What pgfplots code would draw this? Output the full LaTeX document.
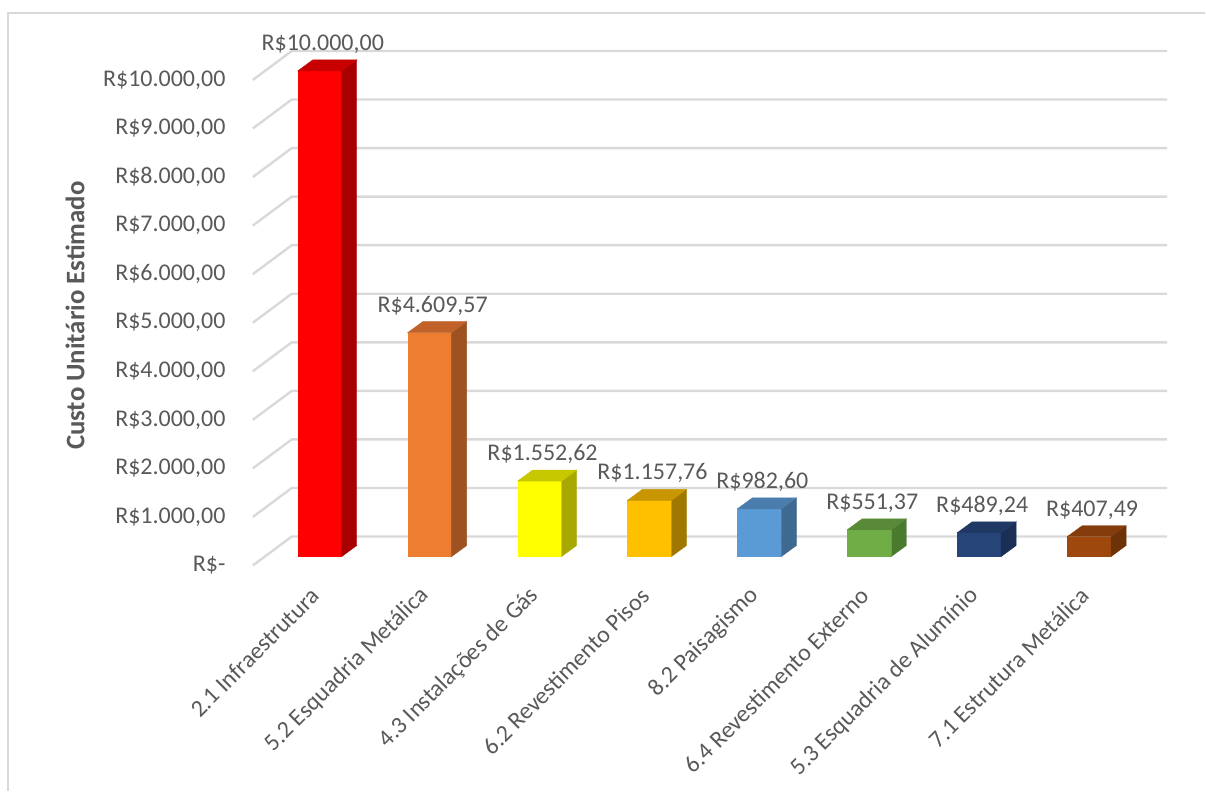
\documentclass[border=0pt]{standalone}
\usepackage{pgfplots}
\pgfplotsset{compat=1.18}
\usepackage{fontspec}
\setmainfont{Carlito}
\definecolor{txt}{HTML}{595959}
\definecolor{grid}{HTML}{D9D9D9}
% front / side / top colours
\definecolor{rF}{HTML}{FF0000}\definecolor{rS}{HTML}{A80000}\definecolor{rT}{HTML}{C80000}
\definecolor{oF}{HTML}{ED7D31}\definecolor{oS}{HTML}{9E5222}\definecolor{oT}{HTML}{C0622A}
\definecolor{yF}{HTML}{FFFF00}\definecolor{yS}{HTML}{A8A800}\definecolor{yT}{HTML}{C8C800}
\definecolor{gF}{HTML}{FFC000}\definecolor{gS}{HTML}{A07800}\definecolor{gT}{HTML}{C89600}
\definecolor{bF}{HTML}{5B9BD5}\definecolor{bS}{HTML}{3E6A92}\definecolor{bT}{HTML}{4A7DAD}
\definecolor{nF}{HTML}{70AD47}\definecolor{nS}{HTML}{4A7A2E}\definecolor{nT}{HTML}{588A38}
\definecolor{dF}{HTML}{264478}\definecolor{dS}{HTML}{1A2F55}\definecolor{dT}{HTML}{203864}
\definecolor{wF}{HTML}{9E480E}\definecolor{wS}{HTML}{6E3209}\definecolor{wT}{HTML}{843C0C}
\newcommand{\lblfont}{\fontsize{12}{14}\selectfont}
\begin{document}
\begin{tikzpicture}
\begin{axis}[
  scale only axis,
  width=603pt, height=294pt,
  xmin=-2.9091, xmax=8.0545,
  ymin=-638, ymax=11461,
  clip=false,
  scaled y ticks=false,
  scaled x ticks=false,
  axis line style={draw=none},
  tick style={draw=none},
  xtick={0,1,2,3,4,5,6,7},
  xticklabels={2.1 Infraestrutura, 5.2 Esquadria Metálica, 4.3 Instalações de Gás, 6.2 Revestimento Pisos, 8.2 Paisagismo, 6.4 Revestimento Externo, 5.3 Esquadria de Alumínio, 7.1 Estrutura Metálica},
  xticklabel style={rotate=45, anchor=east, inner sep=0pt, xshift=-3pt, font=\lblfont, text=txt},
  ytick={0,1000,2000,3000,4000,5000,6000,7000,8000,9000,10000},
  yticklabels={{R\$-},{R\$1.000,00},{R\$2.000,00},{R\$3.000,00},{R\$4.000,00},{R\$5.000,00},{R\$6.000,00},{R\$7.000,00},{R\$8.000,00},{R\$9.000,00},{R\$10.000,00}},
  yticklabel style={anchor=east, inner sep=0pt, xshift=113pt, yshift=-4.5pt, font=\lblfont, text=txt},
  ylabel={Custo Unitário Estimado},
  every axis y label/.style={at={(rel axis cs:0.0622,0.4626)}, rotate=90, anchor=center, font=\fontsize{13.4}{16}\selectfont\bfseries, text=txt},
]
% bounding box
\path (axis cs:-2.9091,-4856) rectangle (axis cs:8.0545,11461);
% chart frame
\draw[grid, line width=1pt] (axis cs:8.0545,11193) -- (axis cs:-2.8364,11193) -- (axis cs:-2.8364,-4835);
% gridlines (front diagonal + back wall)
\draw[grid, line width=1.2pt] (axis cs:-0.6091,-185.5) -- (axis cs:-0.2545,411.5) -- (axis cs:7.7091,411.5);
\draw[grid, line width=1.2pt] (axis cs:-0.6091,814.5) -- (axis cs:-0.2545,1411.5) -- (axis cs:7.7091,1411.5);
\draw[grid, line width=1.2pt] (axis cs:-0.6091,1814.5) -- (axis cs:-0.2545,2411.5) -- (axis cs:7.7091,2411.5);
\draw[grid, line width=1.2pt] (axis cs:-0.6091,2814.5) -- (axis cs:-0.2545,3411.5) -- (axis cs:7.7091,3411.5);
\draw[grid, line width=1.2pt] (axis cs:-0.6091,3814.5) -- (axis cs:-0.2545,4411.5) -- (axis cs:7.7091,4411.5);
\draw[grid, line width=1.2pt] (axis cs:-0.6091,4814.5) -- (axis cs:-0.2545,5411.5) -- (axis cs:7.7091,5411.5);
\draw[grid, line width=1.2pt] (axis cs:-0.6091,5814.5) -- (axis cs:-0.2545,6411.5) -- (axis cs:7.7091,6411.5);
\draw[grid, line width=1.2pt] (axis cs:-0.6091,6814.5) -- (axis cs:-0.2545,7411.5) -- (axis cs:7.7091,7411.5);
\draw[grid, line width=1.2pt] (axis cs:-0.6091,7814.5) -- (axis cs:-0.2545,8411.5) -- (axis cs:7.7091,8411.5);
\draw[grid, line width=1.2pt] (axis cs:-0.6091,8814.5) -- (axis cs:-0.2545,9411.5) -- (axis cs:7.7091,9411.5);
\draw[grid, line width=1.2pt] (axis cs:-0.6091,9814.5) -- (axis cs:-0.2545,10411.5) -- (axis cs:7.7091,10411.5);

\pgfplotsset{
  frontbar/.style={ybar, bar width=22pt, bar shift=0pt, draw=none, fill=#1,
    every node near coord/.append style={anchor=center, yshift=13.5pt, xshift=1.5pt, font=\lblfont, text=txt}},
  face/.style={fill=#1, draw=#1, line width=0.2pt},
}
% 0: 2.1 Infraestrutura
\addplot[frontbar=rF, nodes near coords={R\$10.000,00}] coordinates {(0,10000)};
\addplot[face=rS] coordinates {(0.2,0) (0.3364,226.3) (0.3364,10226.3) (0.2,10000)} -- cycle;
\addplot[face=rT] coordinates {(-0.2,10000) (-0.0636,10226.3) (0.3364,10226.3) (0.2,10000)} -- cycle;
% 1: 5.2 Esquadria Metalica
\addplot[frontbar=oF, nodes near coords={R\$4.609,57}] coordinates {(1,4609.57)};
\addplot[face=oS] coordinates {(1.2,0) (1.3364,226.3) (1.3364,4835.87) (1.2,4609.57)} -- cycle;
\addplot[face=oT] coordinates {(0.8,4609.57) (0.9364,4835.87) (1.3364,4835.87) (1.2,4609.57)} -- cycle;
% 2: 4.3 Instalacoes de Gas
\addplot[frontbar=yF, nodes near coords={R\$1.552,62}] coordinates {(2,1552.62)};
\addplot[face=yS] coordinates {(2.2,0) (2.3364,226.3) (2.3364,1778.92) (2.2,1552.62)} -- cycle;
\addplot[face=yT] coordinates {(1.8,1552.62) (1.9364,1778.92) (2.3364,1778.92) (2.2,1552.62)} -- cycle;
% 3: 6.2 Revestimento Pisos
\addplot[frontbar=gF, nodes near coords={R\$1.157,76}] coordinates {(3,1157.76)};
\addplot[face=gS] coordinates {(3.2,0) (3.3364,226.3) (3.3364,1384.06) (3.2,1157.76)} -- cycle;
\addplot[face=gT] coordinates {(2.8,1157.76) (2.9364,1384.06) (3.3364,1384.06) (3.2,1157.76)} -- cycle;
% 4: 8.2 Paisagismo
\addplot[frontbar=bF, nodes near coords={R\$982,60}] coordinates {(4,982.60)};
\addplot[face=bS] coordinates {(4.2,0) (4.3364,226.3) (4.3364,1208.9) (4.2,982.60)} -- cycle;
\addplot[face=bT] coordinates {(3.8,982.60) (3.9364,1208.9) (4.3364,1208.9) (4.2,982.60)} -- cycle;
% 5: 6.4 Revestimento Externo
\addplot[frontbar=nF, nodes near coords={R\$551,37}] coordinates {(5,551.37)};
\addplot[face=nS] coordinates {(5.2,0) (5.3364,226.3) (5.3364,777.67) (5.2,551.37)} -- cycle;
\addplot[face=nT] coordinates {(4.8,551.37) (4.9364,777.67) (5.3364,777.67) (5.2,551.37)} -- cycle;
% 6: 5.3 Esquadria de Aluminio
\addplot[frontbar=dF, nodes near coords={R\$489,24}] coordinates {(6,489.24)};
\addplot[face=dS] coordinates {(6.2,0) (6.3364,226.3) (6.3364,715.54) (6.2,489.24)} -- cycle;
\addplot[face=dT] coordinates {(5.8,489.24) (5.9364,715.54) (6.3364,715.54) (6.2,489.24)} -- cycle;
% 7: 7.1 Estrutura Metalica
\addplot[frontbar=wF, nodes near coords={R\$407,49}] coordinates {(7,407.49)};
\addplot[face=wS] coordinates {(7.2,0) (7.3364,226.3) (7.3364,633.79) (7.2,407.49)} -- cycle;
\addplot[face=wT] coordinates {(6.8,407.49) (6.9364,633.79) (7.3364,633.79) (7.2,407.49)} -- cycle;
\end{axis}
\end{tikzpicture}
\end{document}
